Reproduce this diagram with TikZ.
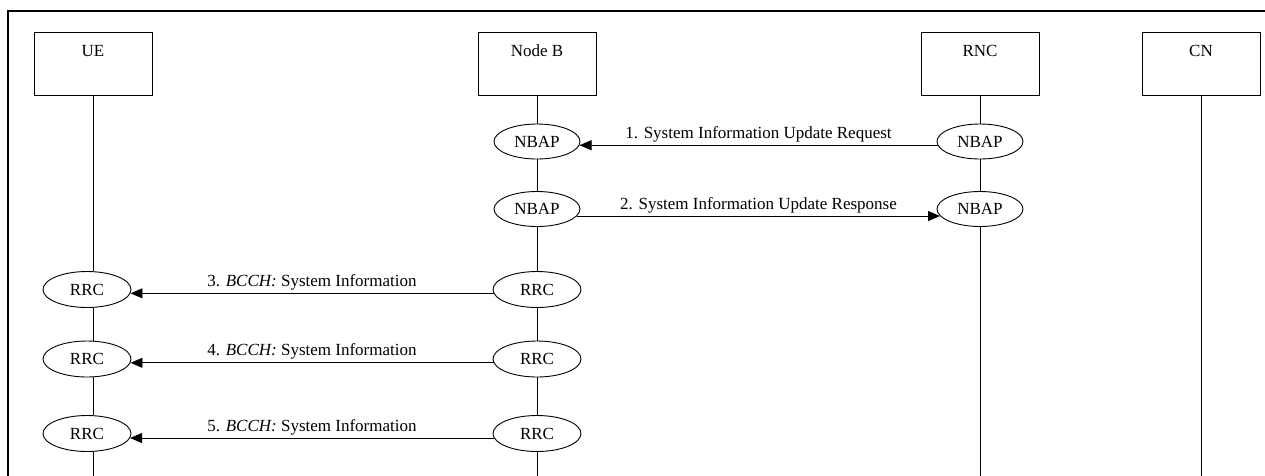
\documentclass[tikz,border=0pt]{standalone}
\usepackage{fontspec}
\setmainfont{Liberation Serif}
\usetikzlibrary{shapes.geometric,arrows.meta}
\begin{document}
\begin{tikzpicture}[x=1pt,y=-1pt,
  txt/.style={font=\fontsize{17}{20}\selectfont, inner sep=0pt},
  entity/.style={draw, line width=0.9pt, minimum width=118pt, minimum height=63pt, inner sep=0pt},
  proto/.style={draw, ellipse, line width=0.9pt, minimum width=86pt, minimum height=35pt, inner sep=0pt, font=\fontsize{17}{20}\selectfont},
  rrc/.style={proto, minimum width=88pt, minimum height=36pt},
  life/.style={line width=0.9pt},
  msg/.style={line width=0.9pt, -{Triangle[length=12pt,width=10pt]}},
  frame/.style={line width=1.3pt}]
\useasboundingbox (0,0) rectangle (1265,475);
\draw[frame] (8,478) -- (8,11) -- (1268,11);

% entities
\node[entity] (ue)  at (93,63.5)   {};
\node[entity] (nb)  at (537,63.5)  {};
\node[entity] (rnc) at (980,63.5)  {};
\node[entity] (cn)  at (1201,63.5) {};
\node[txt, anchor=base] (uet)  at ([yshift=-25pt]ue.north)  {UE};
\node[txt, anchor=base] (nbt)  at ([yshift=-25pt]nb.north)  {Node B};
\node[txt, anchor=base] (rnct) at ([yshift=-25pt]rnc.north) {RNC};
\node[txt, anchor=base] (cnt)  at ([yshift=-25pt]cn.north)  {CN};

% protocol ellipses
\node[proto] (nb1) at (537,141.5) {NBAP};
\node[proto] (rn1) at (980,141.5) {NBAP};
\node[proto] (nb2) at (537,209)   {NBAP};
\node[proto] (rn2) at (980,209)   {NBAP};
\node[rrc] (u3)  at (87,289.5)  {RRC};
\node[rrc] (nb3) at (537,289.5) {RRC};
\node[rrc] (u4)  at (87,359)    {RRC};
\node[rrc] (nb4) at (537,359)   {RRC};
\node[rrc] (u5)  at (87,433.5)  {RRC};
\node[rrc] (nb5) at (537,433.5) {RRC};

% bottom ends of lifelines
\coordinate (ueend)  at (93,476);
\coordinate (nbend)  at (537,476);
\coordinate (rncend) at (980,476);
\coordinate (cnend)  at (1201,476);

% lifelines
\draw[life] (ue.south) -- (ue.south |- u3.north);
\draw[life] (ue.south |- u3.south) -- (ue.south |- u4.north);
\draw[life] (ue.south |- u4.south) -- (ue.south |- u5.north);
\draw[life] (ue.south |- u5.south) -- (ueend);

\draw[life] (nb.south) -- (nb1.north);
\draw[life] (nb1.south) -- (nb2.north);
\draw[life] (nb2.south) -- (nb3.north);
\draw[life] (nb3.south) -- (nb4.north);
\draw[life] (nb4.south) -- (nb5.north);
\draw[life] (nb5.south) -- (nbend);

\draw[life] (rnc.south) -- (rn1.north);
\draw[life] (rn1.south) -- (rn2.north);
\draw[life] (rn2.south) -- (rncend);

\draw[life] (cn.south) -- (cnend);

% messages
\draw[msg] (rn1.185.5) -- (nb1.-5.5)
  node[txt, midway, anchor=base, yshift=7pt] (m1) {1. System Information Update Request};
\draw[msg] (nb2.-10) -- (rn2.190)
  node[txt, midway, anchor=base, yshift=7pt] (m2) {2. System Information Update Response};
\draw[msg] (nb3.185.3) -- (u3.-5.3)
  node[txt, midway, anchor=base, yshift=7pt] (m3) {3. \textit{BCCH:} System Information};
\draw[msg] (nb4.185.3) -- (u4.-5.3)
  node[txt, midway, anchor=base, yshift=7pt] (m4) {4. \textit{BCCH:} System Information};
\draw[msg] (nb5.186) -- (u5.-6)
  node[txt, midway, anchor=base, yshift=7pt] (m5) {5. \textit{BCCH:} System Information};
\end{tikzpicture}
\end{document}
